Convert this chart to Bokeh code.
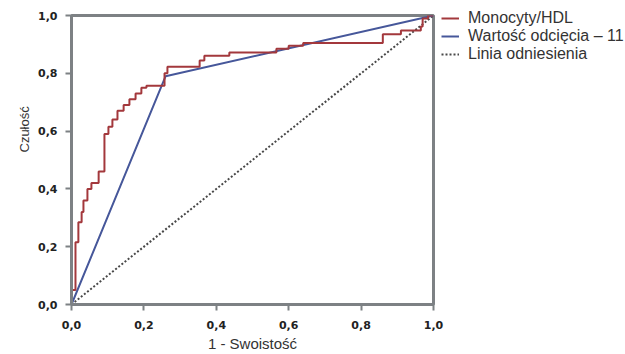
from bokeh.plotting import figure
from bokeh.models import Range1d, FixedTicker, CustomJSTickFormatter, Legend, LegendItem, Title
from bokeh.embed import file_html
from bokeh.resources import INLINE

# ROC curve Monocyty/HDL (1 - specificity, sensitivity)
roc_fpr = [0, 0, 0.011, 0.011, 0.019, 0.019, 0.028, 0.028, 0.033, 0.033, 0.044, 0.044,
           0.055, 0.055, 0.075, 0.075, 0.091, 0.091, 0.102, 0.102, 0.113, 0.113, 0.127, 0.127,
           0.144, 0.144, 0.16, 0.16, 0.177, 0.177, 0.193, 0.193, 0.207, 0.207, 0.257, 0.257,
           0.265, 0.265, 0.354, 0.354, 0.367, 0.367, 0.436, 0.436, 0.566, 0.566, 0.60, 0.60,
           0.64, 0.64, 0.86, 0.86, 0.91, 0.91, 0.965, 0.965, 0.97, 0.97, 0.985, 0.985, 1.0]
roc_tpr = [0, 0.05, 0.05, 0.215, 0.215, 0.285, 0.285, 0.32, 0.32, 0.36, 0.36, 0.40,
           0.40, 0.42, 0.42, 0.46, 0.46, 0.59, 0.59, 0.615, 0.615, 0.64, 0.64, 0.67,
           0.67, 0.69, 0.69, 0.71, 0.71, 0.73, 0.73, 0.75, 0.75, 0.757, 0.757, 0.80,
           0.80, 0.823, 0.823, 0.844, 0.844, 0.861, 0.861, 0.872, 0.872, 0.885, 0.885, 0.895,
           0.895, 0.905, 0.905, 0.935, 0.935, 0.948, 0.948, 0.962, 0.962, 0.99, 0.99, 1.0, 1.0]

# Cut-off value 11
cut_fpr = [0, 0.26, 1.0]
cut_tpr = [0, 0.79, 1.0]

# Reference line
ref_x = [0, 1]
ref_y = [0, 1]

ticks = [0, 0.2, 0.4, 0.6, 0.8, 1.0]
series_labels = ["Monocyty/HDL", "Wartość odcięcia – 11", "Linia odniesienia"]
x_title = "1 - Swoistość"
y_title = "Czułość"

GREY = "#7d8184"

p = figure(frame_width=362, frame_height=289, output_backend="svg", toolbar_location=None,
           x_range=Range1d(0, 1), y_range=Range1d(0, 1),
           min_border_left=71, min_border_right=191, min_border_top=15, min_border_bottom=49)
p.background_fill_color = "white"
p.border_fill_color = "white"
p.outline_line_color = GREY
p.outline_line_width = 3
p.grid.visible = False

for ax in (p.xaxis, p.yaxis):
    ax.ticker = FixedTicker(ticks=ticks)
    ax.formatter = CustomJSTickFormatter(code="return tick.toFixed(1).replace('.', ',');")
    ax.axis_line_color = GREY
    ax.axis_line_width = 3
    ax.major_tick_line_color = GREY
    ax.major_tick_line_width = 2
    ax.major_tick_out = 6
    ax.major_tick_in = 0
    ax.minor_tick_line_color = None
    ax.major_label_text_font = "DejaVu Sans"
    ax.major_label_text_font_style = "bold"
    ax.major_label_text_font_size = "11px"
    ax.major_label_text_color = "#222222"
    ax.axis_label_text_font = "Liberation Sans"
    ax.axis_label_text_font_style = "normal"
    ax.axis_label_text_color = "#333333"

p.xaxis.axis_label = x_title
p.xaxis.axis_label_text_font_size = "15px"
p.xaxis.major_label_standoff = 10
p.yaxis.major_label_standoff = 8
p.xaxis.axis_label_standoff = 3

ytitle = Title(text=y_title, align="left", offset=152, standoff=8,
               text_font="Liberation Sans", text_font_size="13px",
               text_font_style="normal", text_color="#333333")
p.add_layout(ytitle, "left")

r_ref = p.line(ref_x, ref_y, line_color="#484848", line_width=2, line_dash="2 2")
r_cut = p.line(cut_fpr, cut_tpr, line_color="#46579a", line_width=2)
r_roc = p.line(roc_fpr, roc_tpr, line_color="#a3383c", line_width=2)

legend = Legend(items=[LegendItem(label=series_labels[0], renderers=[r_roc]),
                       LegendItem(label=series_labels[1], renderers=[r_cut]),
                       LegendItem(label=series_labels[2], renderers=[r_ref])],
                location=(8, 241), orientation="vertical")
legend.background_fill_alpha = 0
legend.border_line_color = None
legend.padding = 0
legend.margin = 0
legend.spacing = -7
legend.glyph_width = 18
legend.glyph_height = 12
legend.label_height = 12
legend.label_standoff = 9
legend.label_text_font = "Liberation Sans"
legend.label_text_font_size = "16px"
legend.label_text_color = "#333333"
p.add_layout(legend, "right")

open("out.html", "w").write(file_html(p, INLINE))
